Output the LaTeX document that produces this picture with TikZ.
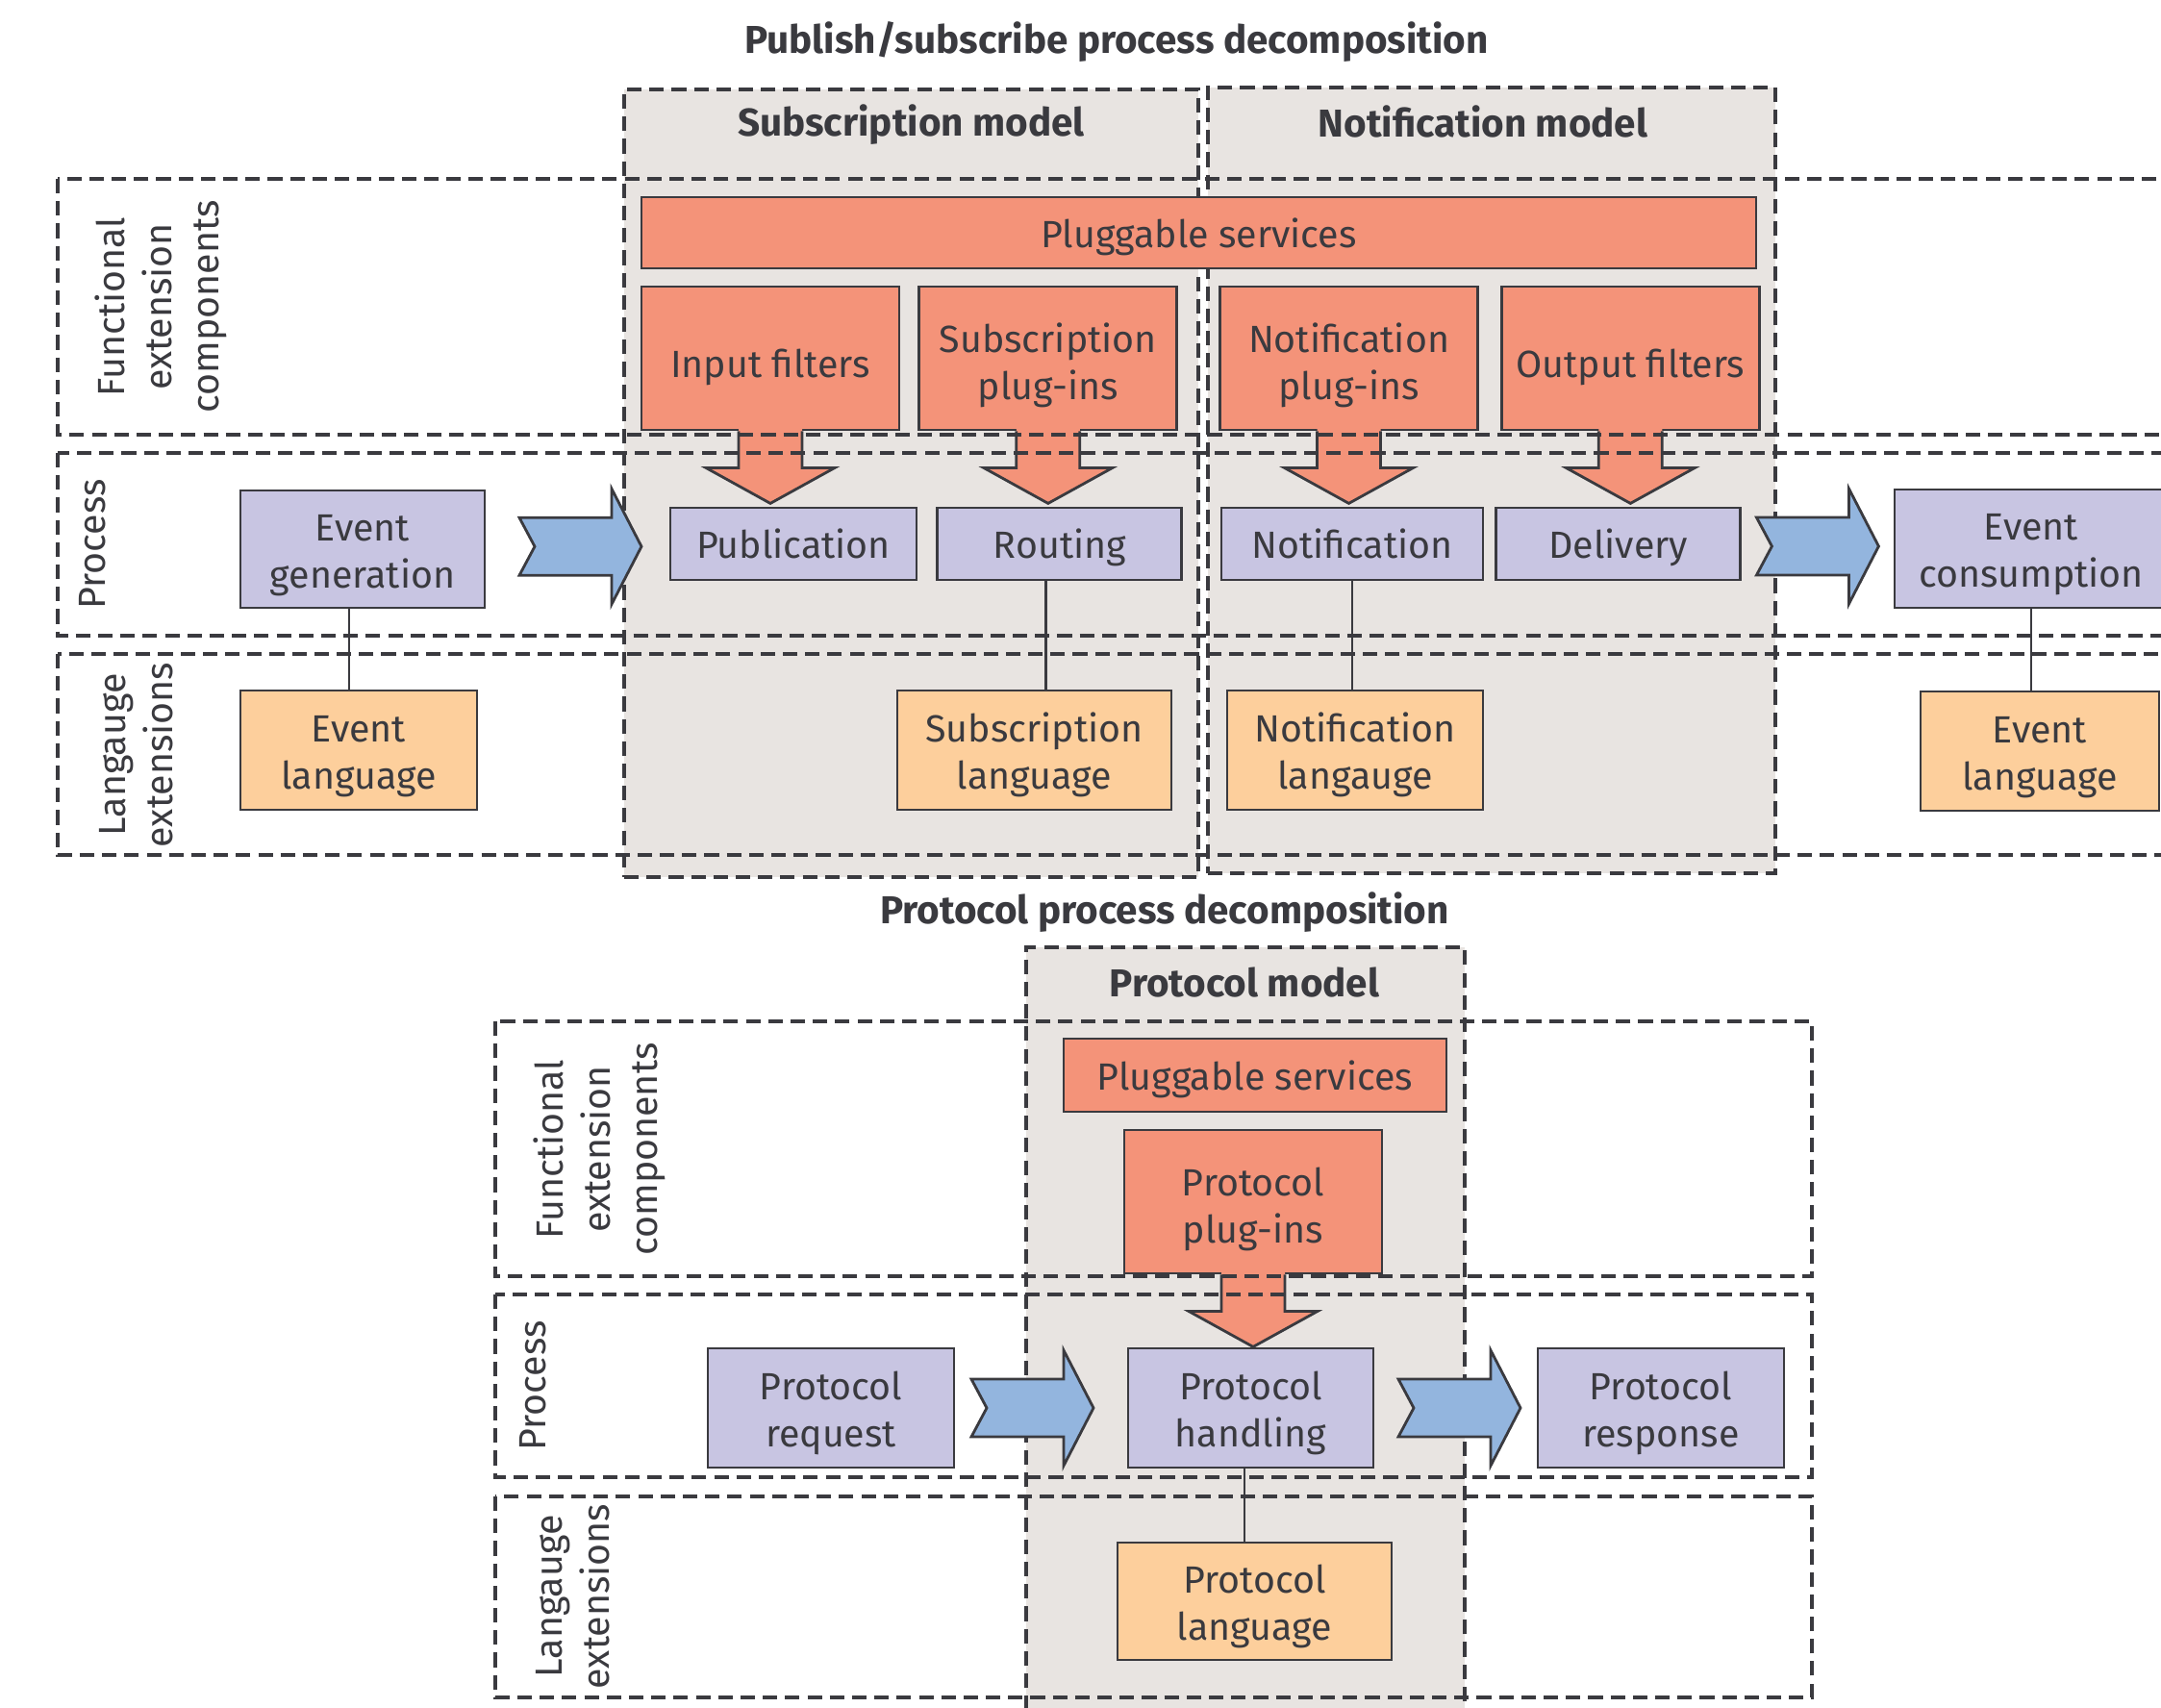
\documentclass[tikz,border=0pt]{standalone}
\usepackage{fontspec}
\setmainfont{Fira Sans}
\usepackage{tikz}
\usetikzlibrary{positioning, calc}
\definecolor{laneInk}{HTML}{3A3A3F}
\definecolor{plugSalmon}{HTML}{F49379}
\definecolor{stepLilac}{HTML}{C8C5E2}
\definecolor{langPeach}{HTML}{FDCF9C}
\definecolor{flowBlue}{HTML}{93B5DE}
\definecolor{modelGrey}{HTML}{E8E4E1}

% block arrow between two process steps
\newcommand{\flowarrow}[3][0]{%
  \draw[flowarrow] ($(#2.east)!0.5!(#3.west)+(#1,0)$) ++(-6.35,-3) -- ++(9.6,0) -- ++(0,-3)
    -- ++(3.1,6) -- ++(-3.1,6) -- ++(0,-3) -- ++(-9.6,0) -- ++(1.6,-3) -- cycle;}
% fat arrow hanging under a plug-in box
\newcommand{\plugarrow}[1]{%
  \fill[plugSalmon] ($(#1.south)+(-3.3,-0.4)$) -- ++(0,4.2) -- ++(-3.4,0) -- ++(6.7,3.7)
    -- ++(6.7,-3.7) -- ++(-3.4,0) -- ++(0,-4.2) -- cycle;
  \draw[plugedge] ($(#1.south)+(-3.3,0)$) -- ++(0,3.8) -- ++(-3.4,0) -- ++(6.7,3.7)
    -- ++(6.7,-3.7) -- ++(-3.4,0) -- ++(0,-3.8);}

\begin{document}
\begin{tikzpicture}[
  x=1mm, y=-1mm,
  every node/.style={font=\fontsize{11.2}{13.9}\selectfont, text=laneInk},
  box/.style={draw=laneInk, line width=0.8pt, align=center, inner sep=0pt,
    execute at begin node={\rule[-2.9pt]{0pt}{14.5pt}}},
  twolines/.style={text height=#1, text depth=2.8pt},
  twolines/.default=25.7pt,
  plug/.style={box, fill=plugSalmon},
  tallplug/.style={plug, minimum width=26.8mm, minimum height=14.9mm,
    execute at begin node={\rule[-2.9pt]{0pt}{16.9pt}}},
  stepbox/.style={box, fill=stepLilac},
  langbox/.style={box, fill=langPeach, twolines},
  model/.style={fill=modelGrey, draw=laneInk, line width=1.1pt,
    dash pattern=on 4.3pt off 2.3pt, inner sep=0pt},
  lane/.style={draw=laneInk, line width=1.1pt, dash pattern=on 4.3pt off 2.3pt},
  lanelabel/.style={rotate=90, align=center},
  heading/.style={font=\fontsize{11.5}{13.9}\selectfont\bfseries},
  link/.style={draw=laneInk, line width=0.8pt},
  plugedge/.style={draw=laneInk, line width=0.8pt, line join=miter},
  flowarrow/.style={fill=flowBlue, draw=laneInk, line width=0.8pt, line join=miter},
]
\useasboundingbox (0,0) rectangle (224.7,177.5);
\clip (0,0) rectangle (224.7,177.5);

% === PUBLISH/SUBSCRIBE ===
\node[heading] (pstitle) at (116.1,4.3) {Publish/subscribe process decomposition};

\node[model, minimum width=59.7mm, minimum height=81.9mm] (submodel) at (94.75,50.25) {};
\node[model, minimum width=59.0mm, minimum height=81.7mm] (notmodel) at (155.1,49.95) {};
\node[heading] (subhead) at ($(submodel.north)+(0,3.9)$) {Subscription model};
\node[heading] (nothead) at ($(notmodel.north)+(-0.9,3.7)$) {Notification model};

% functional extension components
\node[plug, minimum width=115.9mm, minimum height=7.4mm] (psvc) at (124.65,24.2) {Pluggable services};
\node[tallplug] (infilt) at (80.1,37.25) {Input filters};
\node[tallplug, twolines=27.2pt, right=1.8mm of infilt] (subplug) {Subscription\\plug-ins};
\node[tallplug, twolines=27.2pt] (notplug) at (140.25,37.25) {Notification\\plug-ins};
\node[tallplug, right=2.2mm of notplug] (outfilt) {Output filters};

% process
\node[stepbox, twolines, minimum width=25.4mm, minimum height=12.2mm] (evgen) at (37.7,57.1) {Event\\generation};
\node[stepbox, minimum width=25.6mm, minimum height=7.5mm] (publ) at (82.5,56.55) {Publication};
\node[stepbox, minimum width=25.4mm, minimum height=7.5mm, right=1.9mm of publ] (routing) {Routing};
\node[stepbox, minimum width=27.2mm, minimum height=7.5mm] (notif) at (140.6,56.55) {Notification};
\node[stepbox, minimum width=25.4mm, minimum height=7.5mm, right=1.1mm of notif] (deliv) {Delivery};
\node[stepbox, twolines, minimum width=28.4mm, minimum height=12.3mm] (evcons) at (211.2,57.05) {Event\\consumption};

% language extensions
\node[langbox, minimum width=24.6mm, minimum height=12.4mm] (evlangL) at (37.3,78.0) {Event\\language};
\node[langbox, minimum width=28.5mm, minimum height=12.4mm] (sublang) at (107.55,78.0) {Subscription\\language};
\node[langbox, minimum width=26.6mm, minimum height=12.4mm] (notlang) at (140.9,78.0) {Notification\\langauge};
\node[langbox, minimum width=24.8mm, minimum height=12.4mm] (evlangR) at (212.1,78.1) {Event\\language};

\coordinate (evgenfoot) at ($(evgen.south)+(-1.4,0)$);
\coordinate (routfoot) at ($(routing.south)+(-1.4,0)$);
\draw[link] (evgenfoot) -- (evgenfoot |- evlangL.north);
\draw[link] (routfoot) -- (routfoot |- sublang.north);
\draw[link] (notif.south) -- (notif.south |- notlang.north);
\draw[link] (evcons.south) -- (evcons.south |- evlangR.north);

\plugarrow{infilt}
\plugarrow{subplug}
\plugarrow{notplug}
\plugarrow{outfilt}
\flowarrow[0.3]{evgen}{publ}
\flowarrow{deliv}{evcons}

% lanes
\draw[lane] (6.0,18.6) rectangle (230,45.2);
\draw[lane] (6.0,47.1) rectangle (230,66.1);
\draw[lane] (6.0,68.0) rectangle (230,88.9);
\node[lanelabel] (fnlabel) at (16.7,31.9) {Functional\\extension\\components};
\node[lanelabel] (prlabel) at (9.6,56.6) {Process};
\node[lanelabel] (lglabel) at (14.2,78.5) {Langauge\\extensions};

% === PROTOCOL ===
\node[heading] (prtitle) at (121.1,94.85) {Protocol process decomposition};

\node[model, minimum width=45.6mm, minimum height=81.5mm] (protmodel) at (129.5,139.25) {};
\node[heading] (prothead) at ($(protmodel.north)+(-0.1,3.8)$) {Protocol model};

\node[plug, minimum width=39.8mm, minimum height=7.6mm] (psvc2) at (130.5,111.8) {Pluggable services};
\node[tallplug, twolines=27.2pt] (protplug) at (130.3,124.95) {Protocol\\plug-ins};

\node[stepbox, twolines, minimum width=25.6mm, minimum height=12.4mm] (preq) at (86.4,146.4) {Protocol\\request};
\node[stepbox, twolines, minimum width=25.5mm, minimum height=12.4mm] (phand) at (130.05,146.4) {Protocol\\handling};
\node[stepbox, twolines, minimum width=25.6mm, minimum height=12.4mm] (presp) at (172.7,146.4) {Protocol\\response};

\node[langbox, minimum width=28.5mm, minimum height=12.2mm] (plang) at (130.45,166.5) {Protocol\\language};

\coordinate (handfoot) at ($(phand.south)+(-0.65,0)$);
\draw[link] (handfoot) -- (handfoot |- plang.north);

\plugarrow{protplug}
\flowarrow[-0.9]{preq}{phand}
\flowarrow[0.4]{phand}{presp}

\draw[lane] (51.5,106.2) rectangle (188.4,132.7);
\draw[lane] (51.5,134.6) rectangle (188.4,153.6);
\draw[lane] (51.5,155.6) rectangle (188.4,176.5);
\node[lanelabel] (fnlabel2) at (62.3,119.5) {Functional\\extension\\components};
\node[lanelabel] (prlabel2) at (55.4,144.1) {Process};
\node[lanelabel] (lglabel2) at (59.6,166.0) {Langauge\\extensions};

\end{tikzpicture}
\end{document}
